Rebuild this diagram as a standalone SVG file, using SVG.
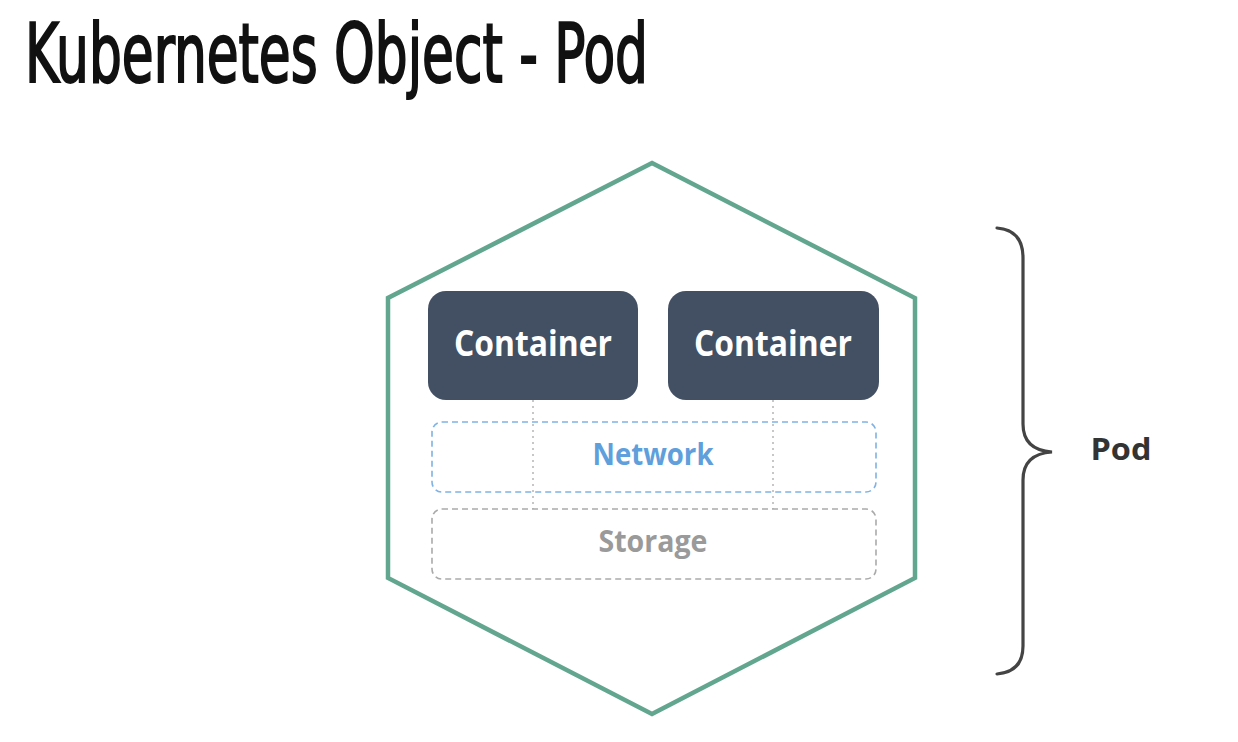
<svg xmlns="http://www.w3.org/2000/svg" width="1238" height="742" viewBox="0 0 1238 742">
<style>
.title{font-family:"DejaVu Sans Condensed","DejaVu Sans",sans-serif;font-weight:400;font-size:82px;fill:#111;stroke:#111;stroke-width:2;}
.ctr{fill:#434f63;}
.ctxt{font-family:"Open Sans","Noto Sans",sans-serif;font-weight:700;font-size:35px;fill:#fff;text-anchor:middle;}
.lbl{font-family:"Open Sans","Noto Sans",sans-serif;font-weight:700;font-size:30px;text-anchor:middle;}
.dash{fill:none;stroke-width:1.6;stroke-dasharray:6 4;}
.conn{stroke:#b5b5b5;stroke-width:1.5;stroke-dasharray:2 4;fill:none;}
</style>
<rect width="1238" height="742" fill="#fff"/>
<text class="title" x="25" y="82" textLength="623" lengthAdjust="spacingAndGlyphs">Kubernetes Object - Pod</text>
<g id="pod">
<polygon points="652,163 915,298 915,578 652,714 388,578 388,298" fill="#fff" stroke="#62a68f" stroke-width="4.5" stroke-linejoin="miter"/>
</g>
<g id="connectors">
<line class="conn" x1="533" y1="400" x2="533" y2="509"/>
<line class="conn" x1="773" y1="400" x2="773" y2="509"/>
</g>
<g id="network">
<rect class="dash" x="432" y="422" width="444" height="70" rx="10" stroke="#7fb2e5"/>
<text class="lbl" x="653" y="465" fill="#5f9fdc" textLength="121" lengthAdjust="spacingAndGlyphs">Network</text>
</g>
<g id="storage">
<rect class="dash" x="432" y="509" width="444" height="70" rx="10" stroke="#aaaaaa"/>
<text class="lbl" x="653" y="552" fill="#9a9a9a" textLength="109" lengthAdjust="spacingAndGlyphs">Storage</text>
</g>
<g id="container1">
<rect class="ctr" x="428" y="291" width="210" height="109" rx="18"/>
<text class="ctxt" x="533" y="356" textLength="158" lengthAdjust="spacingAndGlyphs">Container</text>
</g>
<g id="container2">
<rect class="ctr" x="668" y="291" width="211" height="109" rx="18"/>
<text class="ctxt" x="773" y="356" textLength="158" lengthAdjust="spacingAndGlyphs">Container</text>
</g>
<g id="brace">
<path d="M997,228 Q1023,230 1023,258 L1023,424 Q1023,450 1052,452 Q1023,454 1023,480 L1023,646 Q1023,672 997,674" fill="none" stroke="#444" stroke-width="3.2" stroke-linecap="round"/>
<text class="lbl" x="1121" y="460" fill="#333" font-size="31" textLength="61" lengthAdjust="spacingAndGlyphs">Pod</text>
</g>
</svg>
